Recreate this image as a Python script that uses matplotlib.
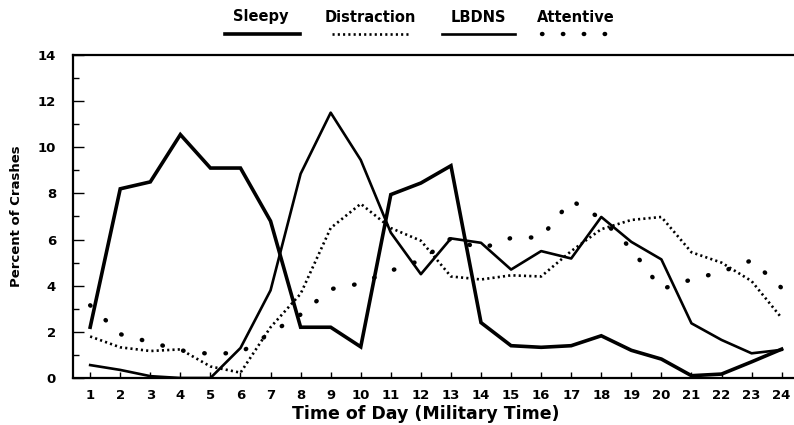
import matplotlib
matplotlib.use("Agg")
import matplotlib.pyplot as plt
from matplotlib.lines import Line2D

hours = list(range(1, 25))
sleepy = [2.2, 8.2, 8.5, 10.55, 9.1, 9.1, 6.8, 2.2, 2.2, 1.35, 7.95, 8.45,
          9.2, 2.4, 1.4, 1.33, 1.4, 1.83, 1.2, 0.82, 0.1, 0.17, 0.7, 1.25]
distraction = [1.8, 1.33, 1.17, 1.24, 0.5, 0.23, 2.2, 3.65, 6.5, 7.55, 6.5, 5.95,
               4.4, 4.27, 4.45, 4.4, 5.5, 6.45, 6.85, 6.98, 5.45, 5.0, 4.2, 2.6]
lbdns = [0.56, 0.35, 0.08, 0.0, 0.0, 1.3, 3.8, 8.85, 11.5, 9.45, 6.3, 4.5,
         6.05, 5.86, 4.7, 5.5, 5.18, 6.98, 5.9, 5.14, 2.37, 1.65, 1.07, 1.22]
attentive = [3.15, 1.9, 1.55, 1.2, 1.04, 1.1, 1.95, 2.75, 3.85, 4.1, 4.65, 5.1,
             6.05, 5.6, 6.07, 6.1, 7.7, 6.9, 5.6, 3.85, 4.27, 4.6, 5.1, 3.9]

series_names = ["Sleepy", "Distraction", "LBDNS", "Attentive"]
ytick_vals = [0, 2, 4, 6, 8, 10, 12, 14]

fig = plt.figure(figsize=(7.94, 4.25), dpi=100)
ax = fig.add_axes([0.0916, 0.1106, 0.908, 0.76])

styles = {
    "Sleepy": dict(color="black", lw=2.6, ls="-", solid_joinstyle="miter"),
    "Distraction": dict(color="black", lw=1.9, ls=(0, (0.8, 1.2)), dash_capstyle="butt"),
    "LBDNS": dict(color="black", lw=1.9, ls="-"),
    "Attentive": dict(color="black", lw=3.2, ls=(0, (0.1, 4.7)), dash_capstyle="round"),
}
data = {"Sleepy": sleepy, "Distraction": distraction, "LBDNS": lbdns, "Attentive": attentive}
for name in series_names:
    ax.plot(hours, data[name], **styles[name])

ax.set_xlim(0.42, 24.4)
ax.set_ylim(0, 14)
ax.set_xticks(hours)
ax.set_xticklabels([str(h) for h in hours])
ax.set_yticks(ytick_vals)
ax.set_yticks(range(1, 14, 2), minor=True)
ax.tick_params(axis="x", direction="in", length=4, width=1, pad=8, labelsize=9.5)
ax.tick_params(axis="y", which="major", direction="in", length=8, width=1, pad=12, labelsize=9.5)
ax.tick_params(axis="y", which="minor", direction="in", length=4.5, width=1)
for lab in ax.get_xticklabels() + ax.get_yticklabels():
    lab.set_fontweight("bold")

for s in ["left", "bottom", "top"]:
    ax.spines[s].set_linewidth(1.6)
ax.spines["right"].set_visible(False)

ax.set_xlabel("Time of Day (Military Time)", fontsize=12.5, fontweight="bold")
ax.xaxis.set_label_coords(0.489, -0.083)
ax.set_ylabel("Percent of Crashes", fontsize=9.5, fontweight="bold")
ax.yaxis.set_label_coords(-0.069, 0.5)

# legend drawn above the plot: label on top, line sample below
leg_text_x = [261, 370, 478, 576]
leg_line_x = [(225, 300), (332, 410), (442, 515), (542, 612)]
W, H = 794.0, 425.0
for name, tx, (x0, x1) in zip(series_names, leg_text_x, leg_line_x):
    fig.text(tx / W, 1 - 17 / H, name, ha="center", va="center",
             fontsize=10.5, fontweight="bold")
    st = dict(styles[name])
    if name == "Attentive":
        st["ls"] = (0, (0.1, 4.6))
    fig.add_artist(Line2D([x0 / W, x1 / W], [1 - 34 / H, 1 - 34 / H],
                          transform=fig.transFigure, **st))

fig.savefig("out.png", dpi=100)
